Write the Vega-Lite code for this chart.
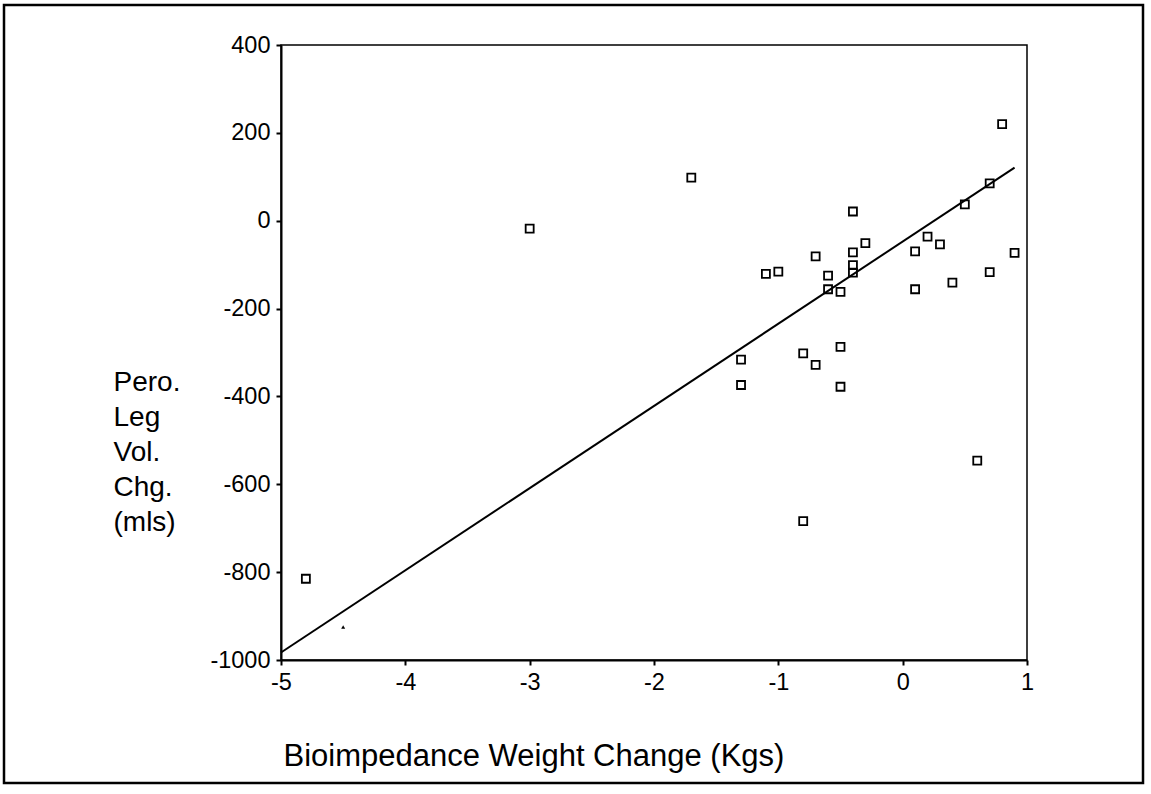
{
  "$schema": "https://vega.github.io/schema/vega-lite/v6.json",
  "width": 1139,
  "height": 778,
  "autosize": {"type": "none"},
  "padding": {"left": 4, "top": 5, "right": 8, "bottom": 11},
  "background": "white",
  "datasets": {
    "points": [
      {"weight": -4.8, "legvol": -815},
      {"weight": -3.0, "legvol": -18},
      {"weight": -1.7, "legvol": 98},
      {"weight": -1.3, "legvol": -316},
      {"weight": -1.3, "legvol": -374},
      {"weight": -1.1, "legvol": -121},
      {"weight": -1.0, "legvol": -116},
      {"weight": -0.8, "legvol": -302},
      {"weight": -0.8, "legvol": -684},
      {"weight": -0.7, "legvol": -81},
      {"weight": -0.7, "legvol": -328},
      {"weight": -0.6, "legvol": -125},
      {"weight": -0.6, "legvol": -156},
      {"weight": -0.5, "legvol": -162},
      {"weight": -0.5, "legvol": -287},
      {"weight": -0.5, "legvol": -378},
      {"weight": -0.4, "legvol": 21},
      {"weight": -0.4, "legvol": -72},
      {"weight": -0.4, "legvol": -101},
      {"weight": -0.4, "legvol": -118},
      {"weight": -0.3, "legvol": -51},
      {"weight": 0.1, "legvol": -70},
      {"weight": 0.1, "legvol": -156},
      {"weight": 0.2, "legvol": -36},
      {"weight": 0.3, "legvol": -54},
      {"weight": 0.4, "legvol": -141},
      {"weight": 0.5, "legvol": 37},
      {"weight": 0.6, "legvol": -546},
      {"weight": 0.7, "legvol": 85},
      {"weight": 0.7, "legvol": -117},
      {"weight": 0.8, "legvol": 220},
      {"weight": 0.9, "legvol": -73}
    ],
    "dot": [
      {"weight": -4.5, "legvol": -925}
    ],
    "fit": [
      {"weight": -5.0, "legvol": -983},
      {"weight": 0.9, "legvol": 121}
    ]
  },
  "layer": [
    {
      "data": {"values": [{}]},
      "mark": {"type": "rect", "filled": false, "stroke": "black", "strokeWidth": 1.5},
      "encoding": {
        "x": {"datum": -5, "type": "quantitative", "title": "Bioimpedance Weight Change (Kgs)",
              "scale": {"domain": [-5, 1], "range": [277, 1023], "nice": false, "zero": false}},
        "x2": {"datum": 1},
        "y": {"datum": -1000, "type": "quantitative", "title": ["Pero.", "Leg", "Vol.", "Chg.", "(mls)"],
              "scale": {"domain": [-1000, 400], "range": [655, 40], "nice": false, "zero": false}},
        "y2": {"datum": 400}
      }
    },
    {
      "data": {"name": "fit"},
      "mark": {"type": "line", "color": "black", "strokeWidth": 2},
      "encoding": {
        "x": {"field": "weight", "type": "quantitative", "title": "Bioimpedance Weight Change (Kgs)"},
        "y": {"field": "legvol", "type": "quantitative", "title": ["Pero.", "Leg", "Vol.", "Chg.", "(mls)"]}
      }
    },
    {
      "data": {"name": "points"},
      "mark": {"type": "point", "shape": "square", "filled": false, "color": "black", "strokeWidth": 1.8, "size": 64, "opacity": 1},
      "encoding": {
        "x": {"field": "weight", "type": "quantitative", "title": "Bioimpedance Weight Change (Kgs)"},
        "y": {"field": "legvol", "type": "quantitative", "title": ["Pero.", "Leg", "Vol.", "Chg.", "(mls)"]}
      }
    },
    {
      "data": {"name": "dot"},
      "mark": {"type": "point", "shape": "triangle-up", "filled": true, "color": "black", "size": 16, "opacity": 1},
      "encoding": {
        "x": {"field": "weight", "type": "quantitative", "title": "Bioimpedance Weight Change (Kgs)"},
        "y": {"field": "legvol", "type": "quantitative", "title": ["Pero.", "Leg", "Vol.", "Chg.", "(mls)"]}
      }
    }
  ],
  "config": {
    "view": {"stroke": "black", "strokeWidth": 2.5, "fill": "white"},
    "axis": {
      "grid": false,
      "labelFont": "Liberation Sans",
      "titleFont": "Liberation Sans",
      "labelColor": "black",
      "titleColor": "black",
      "domainColor": "black",
      "tickColor": "black",
      "domainWidth": 2,
      "tickWidth": 2,
      "tickSize": 5,
      "labelFontSize": 23.5,
      "titleFontSize": 31,
      "titleFontWeight": "normal",
      "labelFlush": false,
      "labelOverlap": false,
      "labelExpr": "datum.value + ''"
    },
    "axisX": {
      "offset": -123,
      "labelPadding": 5,
      "tickCount": 6,
      "titleX": 279,
      "titleY": 105,
      "titleAlign": "left",
      "titleBaseline": "alphabetic"
    },
    "axisY": {
      "offset": -277,
      "labelPadding": 6,
      "tickCount": 7,
      "titleAngle": 0,
      "titleAlign": "left",
      "titleBaseline": "middle",
      "titleX": -168,
      "titleY": 377,
      "titleLineHeight": 35,
      "titleFontSize": 28
    }
  }
}
